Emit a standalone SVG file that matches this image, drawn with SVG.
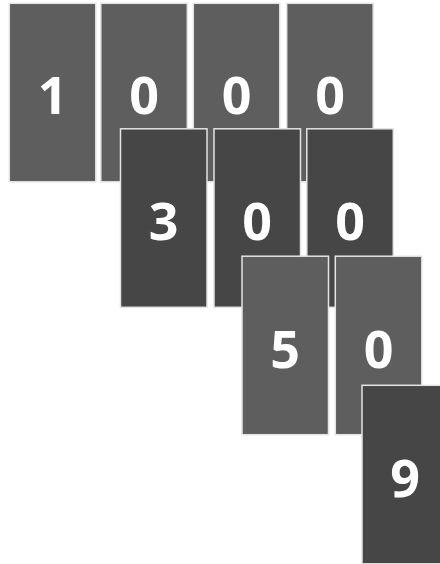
<svg xmlns="http://www.w3.org/2000/svg" width="440" height="564" viewBox="0 0 440 564">
<style>
.c rect{stroke:#e4e4e4;stroke-width:1.5}
.l rect{fill:#5e5e5e}
.d rect{fill:#464646}
.c text{fill:#ffffff;font-family:"Open Sans","Liberation Sans",sans-serif;font-weight:700;font-size:52px;text-anchor:middle}
</style>
<rect width="440" height="564" fill="#ffffff"/>
<g id="r1c1" class="c l"><rect x="9.3" y="3.3" width="86.5" height="178.5"/><text x="52.5" y="114.3">1</text></g>
<g id="r1c2" class="c l"><rect x="100.8" y="3.3" width="86.5" height="178.5"/><text x="144" y="114.3">0</text></g>
<g id="r1c3" class="c l"><rect x="193.3" y="3.3" width="86.5" height="178.5"/><text x="236.5" y="114.3">0</text></g>
<g id="r1c4" class="c l"><rect x="286.7" y="3.3" width="86.5" height="178.5"/><text x="330" y="114.3">0</text></g>
<g id="r2c1" class="c d"><rect x="120.5" y="128.8" width="86.5" height="178.5"/><text x="163.7" y="239.7">3</text></g>
<g id="r2c2" class="c d"><rect x="214" y="128.8" width="86.5" height="178.5"/><text x="257.2" y="239.7">0</text></g>
<g id="r2c3" class="c d"><rect x="306.8" y="128.8" width="86.5" height="178.5"/><text x="350" y="239.7">0</text></g>
<g id="r3c1" class="c l"><rect x="242" y="256.2" width="86.5" height="178.5"/><text x="285.2" y="367.5">5</text></g>
<g id="r3c2" class="c l"><rect x="335.3" y="256.2" width="86.5" height="178.5"/><text x="378.5" y="367.5">0</text></g>
<g id="r4c1" class="c d"><rect x="362" y="385.3" width="86.5" height="178.5"/><text x="405.2" y="496.5">9</text></g>
<g id="connectors"></g>
</svg>
